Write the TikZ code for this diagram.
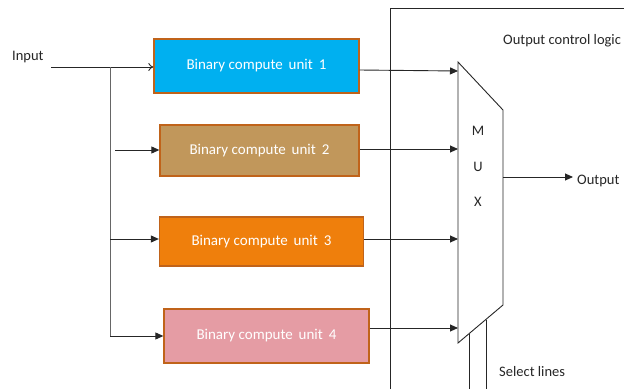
\documentclass[tikz,border=0pt]{standalone}
\usepackage{fontspec}
\setmainfont{Carlito}
\usetikzlibrary{arrows.meta}
\definecolor{bordc}{HTML}{C0631A}
\definecolor{c1}{HTML}{00B0F0}
\definecolor{c2}{HTML}{C1975B}
\definecolor{c3}{HTML}{EF7F0C}
\definecolor{c4}{HTML}{E59CA4}
\tikzset{
  unitbox/.style={draw=bordc, line width=1.3pt, text=white, font=\fontsize{15}{17}\selectfont, inner sep=0pt},
  conn/.style={line width=0.9pt, draw=black!85},
  tri/.style={conn, -{Triangle[length=8pt,width=7pt]}},
  lbl/.style={font=\fontsize{14.5}{17}\selectfont, text=black!85, inner sep=0pt}
}
\begin{document}
\begin{tikzpicture}[x=1pt,y=-1pt]
\useasboundingbox (0,0) rectangle (624,389);
% output control logic frame
\coordinate (fbl) at (390,389);
\coordinate (ftl) at (390,8);
\coordinate (ftr) at (624,8);
\draw[conn] (fbl) -- (ftl) -- (ftr);
\node[lbl, anchor=west] (ocl) at (503,41) {Output control logic};
% units
\node[unitbox, fill=c1, minimum width=205pt, minimum height=54pt] (b1) at (256.5,66) {Binary compute\, unit\, 1};
\node[unitbox, fill=c2, minimum width=199pt, minimum height=51pt] (b2) at (259.5,150.5) {Binary compute\, unit\, 2};
\node[unitbox, fill=c3, minimum width=204pt, minimum height=49pt] (b3) at (261.5,241.5) {Binary compute\, unit\, 3};
\node[unitbox, fill=c4, minimum width=205pt, minimum height=54pt] (b4) at (266.5,336) {Binary compute\, unit\, 4};
% input
\node[lbl, anchor=west] (inp) at (12,57) {Input};
\coordinate (in0) at (51,67);
\coordinate (br0) at (110,67);
\coordinate (br2) at (115,150);
\coordinate (br3) at (110,239);
\coordinate (br4) at (110,336);
\draw[conn, -{>[length=5pt,width=8pt]}] (in0) -- (in0 -| b1.west);
\draw[conn, draw=black!60] (br0) -- (br4);
\draw[tri] (br2) -- (br2 -| b2.west);
\draw[tri] (br3) -- (br3 -| b3.west);
\draw[tri] (br4) -- (br4 -| b4.west);
% mux
\coordinate (mtl) at (458,62);
\coordinate (mtr) at (503,110);
\coordinate (mbr) at (503,305);
\coordinate (mbl) at (458,343);
\draw[conn] (mtl) -- (mtr) -- (mbr) -- (mbl) -- cycle;
\node[lbl] (mm) at (478,131) {M};
\node[lbl] (mu) at (478,167) {U};
\node[lbl] (mx) at (478,202) {X};
\coordinate (mi1) at (458,71);
\coordinate (mi2) at (458,149);
\coordinate (mi3) at (458,239);
\coordinate (mi4) at (458,328);
\draw[tri] ([yshift=-4pt]b1.east) -- (mi1);
\draw[tri] (b2.east |- mi2) -- (mi2);
\draw[tri] (b3.east |- mi3) -- (mi3);
\draw[tri] (b4.east |- mi4) -- (mi4);
% output
\coordinate (mo) at (503,177);
\node[lbl, anchor=west] (out) at (577,181) {Output};
\draw[tri, shorten >=4pt] (mo) -- (mo -| out.west);
% select lines
\coordinate (s1t) at (469,334);
\coordinate (s1b) at (469,389);
\coordinate (s2t) at (486,319.5);
\coordinate (s2b) at (486,389);
\draw[conn] (s1t) -- (s1b);
\draw[conn] (s2t) -- (s2b);
\node[lbl, anchor=west] (sel) at (499,372) {Select lines};
\end{tikzpicture}
\end{document}
